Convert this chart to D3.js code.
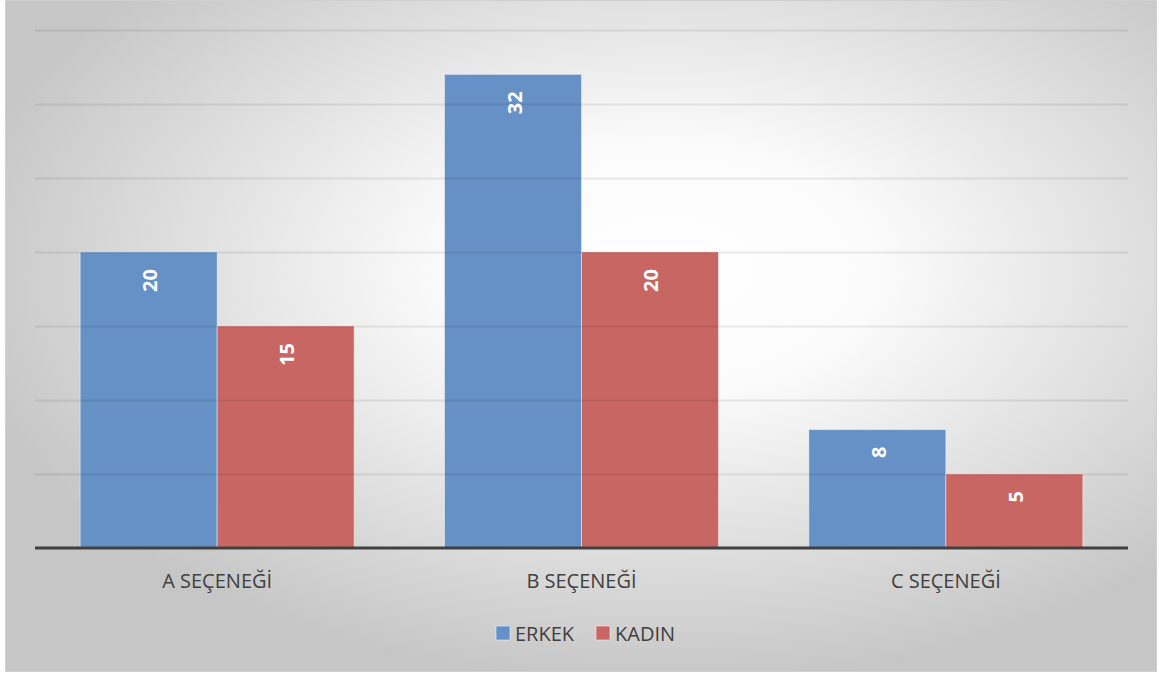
<!DOCTYPE html>
<html><head><meta charset="utf-8">
<script src="https://cdn.jsdelivr.net/npm/d3@7"></script>
<style>html,body{margin:0;padding:0;background:#fff;}svg{display:block;}</style>
</head><body>
<script>
const categories = ["A SEÇENEĞİ", "B SEÇENEĞİ", "C SEÇENEĞİ"];
const seriesNames = ["ERKEK", "KADIN"];
const erkek = [20, 32, 8];
const kadin = [15, 20, 5];
const yTicks = [0, 5, 10, 15, 20, 25, 30, 35];
const colors = ["#6591c6", "#c86664"];

(function () {
const W = 1159, H = 675;
const svg = d3.select("body").append("svg").attr("width", W).attr("height", H);
const defs = svg.append("defs");
const rg = defs.append("radialGradient").attr("id", "bg").attr("cx", "57%").attr("cy", "40%").attr("r", "62%");
rg.append("stop").attr("offset", "0%").attr("stop-color", "#ffffff");
rg.append("stop").attr("offset", "30%").attr("stop-color", "#fbfbfb");
rg.append("stop").attr("offset", "100%").attr("stop-color", "#c6c6c6");
const gg = defs.append("linearGradient").attr("id", "grid").attr("gradientUnits", "userSpaceOnUse")
  .attr("x1", 0).attr("y1", 25).attr("x2", 0).attr("y2", 550);
gg.append("stop").attr("offset", "0%").attr("stop-color", "#000").attr("stop-opacity", 0.08);
gg.append("stop").attr("offset", "100%").attr("stop-color", "#000").attr("stop-opacity", 0.42);

svg.append("rect").attr("x", 5.5).attr("y", 0.5).attr("width", 1151).attr("height", 671)
  .attr("fill", "url(#bg)").attr("stroke", "#d0d0d0").attr("stroke-width", 1);

const pLeft = 35, pRight = 1128, pTop = 30, pBottom = 548;
const x = d3.scaleBand().domain(categories).range([pLeft, pRight]).paddingInner(0.248).paddingOuter(0.124);
const xs = d3.scaleBand().domain(seriesNames).range([0, x.bandwidth()]);
const y = d3.scaleLinear().domain([0, 35]).range([pBottom, pTop]);

const data = categories.map((c, i) => ({c, vals: [erkek[i], kadin[i]]}));

const g = svg.append("g");
data.forEach(d => {
  d.vals.forEach((v, k) => {
    g.append("rect")
      .attr("x", x(d.c) + xs(seriesNames[k]))
      .attr("y", y(v))
      .attr("width", xs.bandwidth())
      .attr("height", y(0) - y(v))
      .attr("fill", colors[k])
      .attr("stroke", "rgba(255,255,255,0.45)").attr("stroke-width", 1);
  });
});

const yAxis = d3.axisLeft(y).tickValues(yTicks.filter(t => t > 0)).tickSize(-(pRight - pLeft)).tickFormat("");
const ga = svg.append("g").attr("transform", `translate(${pLeft},0)`).call(yAxis);
ga.select(".domain").remove();
ga.selectAll(".tick line").attr("stroke", "url(#grid)").attr("stroke-width", 2);

svg.append("line").attr("x1", pLeft).attr("x2", pRight).attr("y1", y(0)).attr("y2", y(0))
  .attr("stroke", "#404040").attr("stroke-width", 3);

data.forEach(d => {
  d.vals.forEach((v, k) => {
    const cx = x(d.c) + xs(seriesNames[k]) + xs.bandwidth() / 2;
    const ty = y(v) + 17;
    svg.append("text")
      .attr("transform", `translate(${cx + 1},${ty}) rotate(-90)`)
      .attr("text-anchor", "end").attr("dominant-baseline", "central")
      .attr("font-family", "Open Sans").attr("font-weight", "bold").attr("font-size", 20)
      .attr("fill", "#ffffff").text(v);
  });
});

const xAxis = d3.axisBottom(x).tickSize(0).tickPadding(0);
const gx = svg.append("g").attr("transform", `translate(0,${pBottom})`).call(xAxis);
gx.select(".domain").remove();
gx.selectAll(".tick text").attr("y", 40).attr("dy", null)
  .attr("font-family", "Open Sans").attr("font-size", 20).attr("fill", "#404040");

const legend = svg.append("g");
const lx = [496, 596];
seriesNames.forEach((s, k) => {
  legend.append("rect").attr("x", lx[k]).attr("y", 626).attr("width", 14).attr("height", 14)
    .attr("fill", colors[k]).attr("stroke", "rgba(255,255,255,0.5)");
  legend.append("text").attr("x", lx[k] + 19).attr("y", 641)
    .attr("font-family", "Open Sans").attr("font-size", 20).attr("fill", "#404040").text(s);
});
})();
</script>
</body></html>
